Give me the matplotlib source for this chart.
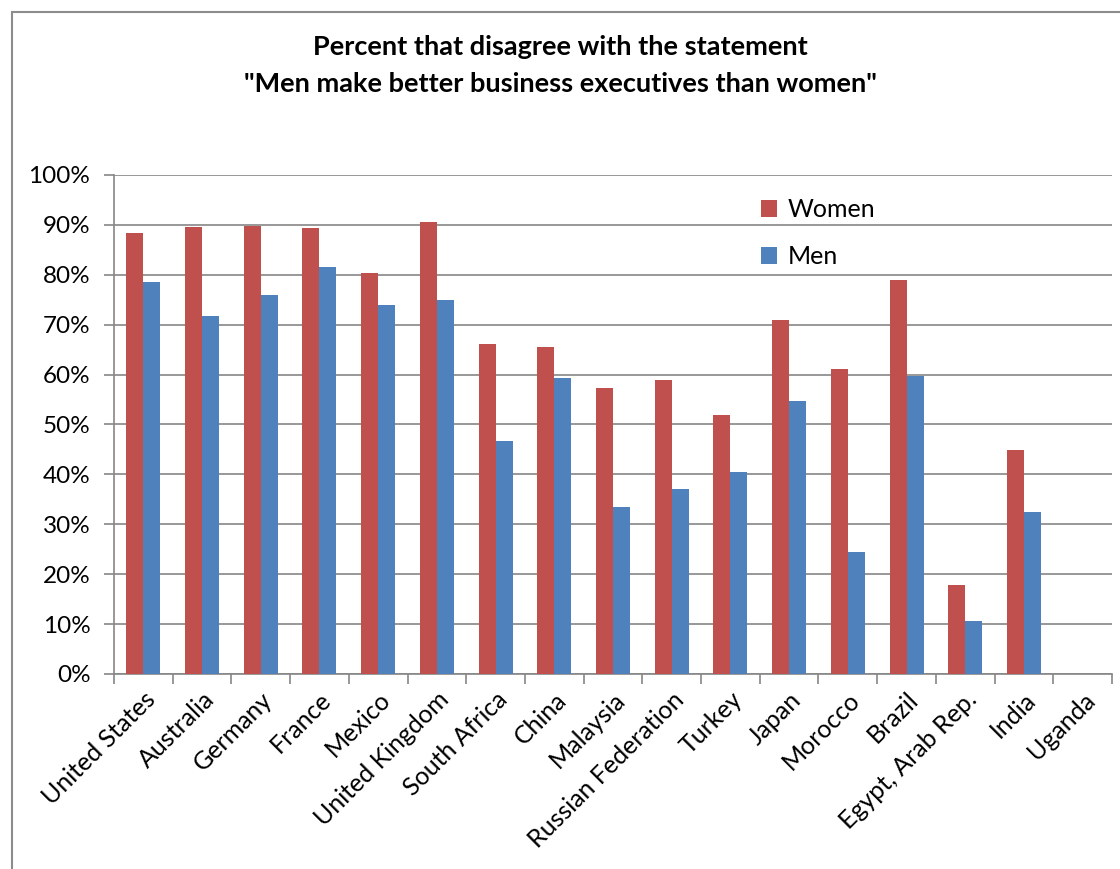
import matplotlib
matplotlib.use("Agg")
import matplotlib.pyplot as plt
import numpy as np
from matplotlib.patches import Rectangle
from matplotlib.ticker import PercentFormatter

countries = ["United States", "Australia", "Germany", "France", "Mexico",
             "United Kingdom", "South Africa", "China", "Malaysia",
             "Russian Federation", "Turkey", "Japan", "Morocco", "Brazil",
             "Egypt, Arab Rep.", "India", "Uganda"]
women = [88.4, 89.6, 89.8, 89.4, 80.4, 90.6, 66.2, 65.6, 57.4, 59.0, 52.0,
         71.0, 61.2, 79.0, 17.8, 44.8, np.nan]
men = [78.6, 71.8, 76.0, 81.6, 74.0, 75.0, 46.6, 59.4, 33.4, 37.0, 40.4,
       54.8, 24.4, 59.8, 10.6, 32.4, np.nan]
yticks = list(range(0, 101, 10))

plt.rcParams['font.family'] = ['Lato', 'DejaVu Sans']

fig = plt.figure(figsize=(11.2, 8.69), dpi=100)
ax = fig.add_axes([114/1120, 1-674/869, (1112-114)/1120, (674-175)/869])

grey = '#868686'
x = np.arange(len(countries))
w = 0.29
ax.bar(x - w/2, women, w, color='#C0504D', label='Women', zorder=3)
ax.bar(x + w/2, men, w, color='#4F81BD', label='Men', zorder=3)

ax.set_xlim(-0.5, len(countries) - 0.5)
ax.set_ylim(0, 100)
ax.set_yticks(yticks)
ax.yaxis.set_major_formatter(PercentFormatter(decimals=0))
ax.grid(axis='y', color=grey, lw=1.2, zorder=0)
ax.set_axisbelow(True)
for s in ['top', 'right']:
    ax.spines[s].set_visible(False)
for s in ['left', 'bottom']:
    ax.spines[s].set_color(grey)
    ax.spines[s].set_linewidth(1.2)

ax.set_xticks(x)
ax.set_xticklabels(countries, rotation=45, ha='right', rotation_mode='anchor', fontsize=18)
ax.tick_params(axis='x', length=0, pad=10)
ax.set_xticks(np.arange(-0.5, len(countries)), minor=True)
ax.tick_params(axis='x', which='minor', length=7, width=1.2, color=grey, direction='out')
ax.tick_params(axis='y', length=7, width=1.2, color=grey, labelsize=17.5, pad=10)

fig.text(0.5, 1 - 47/869, 'Percent that disagree with the statement',
         ha='center', va='center', fontsize=19.5, fontweight='bold')
fig.text(0.5, 1 - 84/869, '"Men make better business executives than women"',
         ha='center', va='center', fontsize=19.5, fontweight='bold')

leg = ax.legend(loc='upper left', bbox_to_anchor=(0.626, 0.998), frameon=False,
                fontsize=18, handlelength=0.65, handleheight=0.65,
                labelspacing=0.95, handletextpad=0.4)

fig.add_artist(Rectangle((12/1120, -0.1), 1.5, 1 - 12/869 + 0.1,
                         transform=fig.transFigure, fill=False,
                         edgecolor='#8c8c8c', lw=1.5))

fig.savefig('out.png', dpi=100)
